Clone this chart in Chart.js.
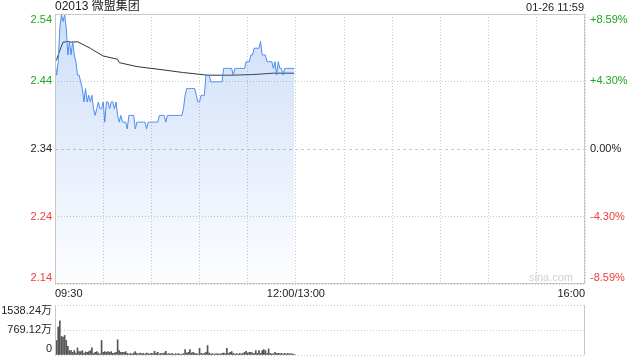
<!DOCTYPE html>
<html>
<head>
<meta charset="utf-8">
<script src="https://cdn.jsdelivr.net/npm/chart.js@4.4.1/dist/chart.umd.min.js"></script>
<style>
  html, body { margin: 0; padding: 0; background: #fff; }
  #wrap { position: relative; width: 640px; height: 360px; }
  #wrap canvas { position: absolute; left: 0; top: 0; }
</style>
</head>
<body>
<div id="wrap">
  <canvas id="price" width="640" height="360"></canvas>
  <canvas id="volume" width="640" height="360"></canvas>
</div>
<script>
const stockTitle = '02013 微盟集团';
const stamp = '01-26 11:59';
const prevClose = 2.34;
const pctTicks = [-8.59, -4.30, 0, 4.30, 8.59];
const timeTicks = [0, 150, 330];          // minutes since 09:30 on the trading axis
const timeLabels = ['09:30', '12:00/13:00', '16:00'];
const volTicks = [0, 769.12, 1538.24];    // 万

// one value per minute, 09:30 .. 11:59
const prices = [
  2.47, 2.45, 2.47, 2.52, 2.54, 2.53, 2.54, 2.52, 2.48, 2.50,
  2.48, 2.50, 2.48, 2.47, 2.45, 2.45, 2.44, 2.43, 2.41, 2.43,
  2.41, 2.42, 2.41, 2.42, 2.40, 2.39, 2.40, 2.41, 2.40, 2.40,
  2.41, 2.38, 2.41, 2.41, 2.40, 2.41, 2.41, 2.40, 2.41, 2.39,
  2.38, 2.39, 2.38, 2.38, 2.38, 2.37, 2.39, 2.39, 2.39, 2.39,
  2.37, 2.38, 2.38, 2.38, 2.38, 2.38, 2.38, 2.37, 2.38, 2.38,
  2.38, 2.38, 2.38, 2.38, 2.38, 2.39, 2.39, 2.39, 2.39, 2.38,
  2.39, 2.39, 2.39, 2.39, 2.39, 2.39, 2.39, 2.39, 2.39, 2.39,
  2.40, 2.42, 2.43, 2.43, 2.43, 2.43, 2.43, 2.43, 2.42, 2.41,
  2.41, 2.42, 2.42, 2.42, 2.45, 2.45, 2.45, 2.44, 2.44, 2.44,
  2.44, 2.44, 2.44, 2.44, 2.44, 2.46, 2.46, 2.46, 2.46, 2.46,
  2.46, 2.45, 2.46, 2.46, 2.46, 2.46, 2.46, 2.46, 2.46, 2.47,
  2.47, 2.47, 2.48, 2.48, 2.49, 2.49, 2.49, 2.49, 2.50, 2.48,
  2.48, 2.48, 2.47, 2.47, 2.47, 2.47, 2.46, 2.47, 2.45, 2.47,
  2.46, 2.46, 2.45, 2.46, 2.46, 2.46, 2.46, 2.46, 2.46, 2.46
];

// average price line, read at a few minutes
const avgMinutes = [0, 1, 3, 5, 8, 10, 14, 22, 24, 30, 39, 40, 51, 64, 80, 95, 110, 123, 136, 149];
const avgPrices = [2.470, 2.473, 2.487, 2.499, 2.500, 2.499, 2.4997, 2.490, 2.487, 2.4785,
  2.4736, 2.4686, 2.4627, 2.4588, 2.4538, 2.4499, 2.4499, 2.4508, 2.4529, 2.4529];

// volume per minute, 万
const volumes = [
  1538.24, 447, 862, 1050, 571, 550, 602, 447, 270, 135,
  135, 83, 135, 62, 218, 104, 104, 135, 52, 94,
  83, 104, 135, 218, 52, 83, 104, 62, 31, 447,
  83, 104, 83, 104, 83, 104, 52, 62, 83, 467,
  135, 83, 83, 83, 104, 52, 31, 52, 31, 62,
  104, 52, 31, 62, 42, 52, 31, 62, 42, 31,
  52, 42, 114, 52, 83, 31, 52, 42, 62, 114,
  31, 42, 31, 52, 21, 42, 31, 42, 21, 31,
  42, 166, 62, 83, 166, 62, 83, 52, 42, 31,
  208, 52, 31, 52, 83, 290, 62, 31, 42, 31,
  31, 42, 31, 31, 52, 62, 42, 208, 52, 83,
  104, 52, 31, 42, 31, 52, 31, 52, 83, 114,
  62, 83, 83, 62, 42, 135, 52, 135, 52, 135,
  166, 135, 52, 187, 52, 31, 42, 83, 52, 52,
  42, 52, 31, 52, 31, 52, 31, 42, 31, 21
];

const FONT = '"Liberation Sans", Arial, "Noto Sans CJK SC", sans-serif';
const GREEN = '#1ea51e';
const RED = '#f03c3c';
const GRID = '#c8c8c8';

const priceTicks = pctTicks.map(p => prevClose * (1 + p / 100));

function clamp(v, lo, hi) {
  return Math.max(lo, Math.min(hi, v));
}

// frame and text for the price panel
const priceText = {
  id: 'priceText',
  afterDraw(chart) {
    const { ctx, chartArea: a, scales } = chart;
    ctx.save();
    ctx.strokeStyle = GRID;
    ctx.lineWidth = 1;
    ctx.strokeRect(a.left + 0.5, a.top + 0.5, a.right - a.left - 1, a.bottom - a.top - 1);

    ctx.font = '11px ' + FONT;
    ctx.textBaseline = 'middle';
    pctTicks.forEach((p, i) => {
      const y = clamp(scales.y.getPixelForValue(priceTicks[i]), a.top + 6, a.bottom - 6);
      ctx.fillStyle = p > 0 ? GREEN : (p < 0 ? RED : '#222');
      ctx.textAlign = 'right';
      ctx.fillText(priceTicks[i].toFixed(2), a.left - 3, y);
      ctx.textAlign = 'left';
      const txt = (p > 0 ? '+' : '') + p.toFixed(2) + '%';
      ctx.fillText(txt, a.right + 5, y);
    });

    ctx.fillStyle = '#222';
    timeTicks.forEach((t, i) => {
      ctx.textAlign = i === 0 ? 'left' : (i === timeTicks.length - 1 ? 'right' : 'center');
      ctx.fillText(timeLabels[i], scales.x.getPixelForValue(t), a.bottom + 10);
    });

    ctx.textAlign = 'right';
    ctx.fillText(stamp, a.right - 1, 8);
    ctx.font = '12px ' + FONT;
    ctx.textAlign = 'left';
    ctx.fillText(stockTitle, a.left, 7);

    ctx.font = '11px ' + FONT;
    ctx.fillStyle = '#d0d0d0';
    ctx.textAlign = 'right';
    ctx.fillText('sina.com', a.right - 12, a.bottom - 6);
    ctx.restore();
  }
};

new Chart(document.getElementById('price'), {
  type: 'line',
  data: {
    datasets: [
      {
        data: prices.map((p, i) => ({ x: i, y: p })),
        borderColor: '#4d8cf0',
        borderWidth: 1,
        pointRadius: 0,
        tension: 0,
        fill: 'start',
        order: 0,
        backgroundColor: (c) => {
          const { ctx, chartArea } = c.chart;
          if (!chartArea) return 'rgba(66,128,232,0.2)';
          const g = ctx.createLinearGradient(0, chartArea.top, 0, chartArea.bottom);
          g.addColorStop(0, 'rgba(66,128,232,0.26)');
          g.addColorStop(1, 'rgba(66,128,232,0.01)');
          return g;
        }
      },
      {
        data: avgMinutes.map((m, i) => ({ x: m, y: avgPrices[i] })),
        borderColor: '#333',
        borderWidth: 1,
        pointRadius: 0,
        tension: 0,
        fill: false,
        order: 1
      }
    ]
  },
  options: {
    responsive: false,
    animation: false,
    layout: { padding: { top: 14 } },
    plugins: { legend: { display: false }, tooltip: { enabled: false } },
    scales: {
      x: {
        type: 'linear',
        min: 0,
        max: 330,
        afterBuildTicks: s => { s.ticks = []; for (let t = 0; t <= 330; t += 30) s.ticks.push({ value: t }); },
        afterFit: s => { s.height = 76; },
        ticks: { display: false },
        grid: { color: GRID, drawTicks: false },
        border: { display: false, dash: [1, 2] }
      },
      y: {
        min: priceTicks[0],
        max: priceTicks[priceTicks.length - 1],
        afterBuildTicks: s => { s.ticks = priceTicks.map(v => ({ value: v })); },
        afterFit: s => { s.width = 55; },
        ticks: { display: false },
        grid: { color: GRID, drawTicks: false },
        border: {
          display: false,
          dash: c => (c.tick && Math.abs(c.tick.value - prevClose) < 1e-6 ? [3, 3] : [1, 2])
        }
      },
      yPct: {
        position: 'right',
        min: pctTicks[0],
        max: pctTicks[pctTicks.length - 1],
        afterFit: s => { s.width = 55; },
        ticks: { display: false },
        grid: { display: false },
        border: { display: false }
      }
    }
  },
  plugins: [priceText]
});

// frame and labels for the volume panel
const volText = {
  id: 'volText',
  afterDraw(chart) {
    const { ctx, chartArea: a, scales } = chart;
    ctx.save();
    ctx.strokeStyle = GRID;
    ctx.lineWidth = 1;
    ctx.beginPath();
    ctx.moveTo(a.left + 0.5, a.top);
    ctx.lineTo(a.left + 0.5, a.bottom);
    ctx.moveTo(a.right - 0.5, a.top);
    ctx.lineTo(a.right - 0.5, a.bottom);
    ctx.stroke();

    ctx.font = '11px ' + FONT;
    ctx.fillStyle = '#222';
    ctx.textAlign = 'right';
    ctx.textBaseline = 'middle';
    volTicks.forEach(v => {
      const y = clamp(scales.y.getPixelForValue(v), a.top + 6, a.bottom - 6);
      ctx.fillText(v === 0 ? '0' : v.toFixed(2) + '万', a.left - 3, y);
    });
    ctx.restore();
  }
};

new Chart(document.getElementById('volume'), {
  type: 'bar',
  data: {
    datasets: [{
      data: volumes.map((v, i) => ({ x: i, y: v })),
      backgroundColor: '#555',
      barThickness: 1
    }]
  },
  options: {
    responsive: false,
    animation: false,
    layout: { padding: { top: 305, right: 55 } },
    plugins: { legend: { display: false }, tooltip: { enabled: false } },
    scales: {
      x: {
        type: 'linear',
        min: 0,
        max: 330,
        offset: false,
        afterFit: s => { s.height = 5; },
        ticks: { display: false },
        grid: { display: false },
        border: { display: false }
      },
      y: {
        min: 0,
        max: volTicks[volTicks.length - 1],
        afterBuildTicks: s => { s.ticks = volTicks.map(v => ({ value: v })); },
        afterFit: s => { s.width = 55; },
        ticks: { display: false },
        grid: { color: GRID, drawTicks: false },
        border: { display: false, dash: [1, 2] }
      }
    }
  },
  plugins: [volText]
});
</script>
</body>
</html>
